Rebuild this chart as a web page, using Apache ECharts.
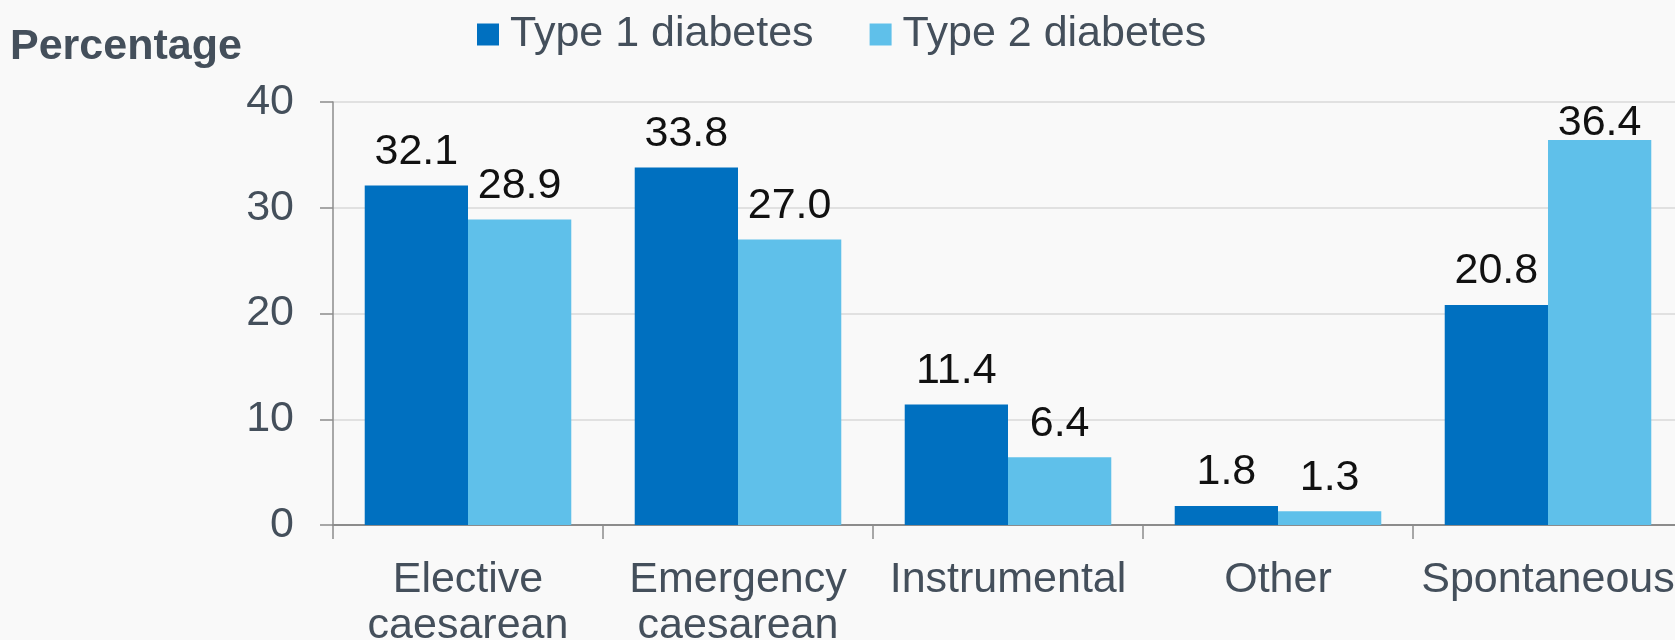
<!DOCTYPE html>
<html>
<head>
<meta charset="utf-8">
<title>Mode of delivery by diabetes type</title>
<script src="https://cdn.jsdelivr.net/npm/echarts@6/dist/echarts.min.js"></script>
<style>
  html, body { margin: 0; padding: 0; background: #f9f9f9; }
  #chart { width: 1675px; height: 640px; }
</style>
</head>
<body>
<div id="chart"></div>
<script>
// Chart data
const categories = ['Elective\ncaesarean', 'Emergency\ncaesarean', 'Instrumental', 'Other', 'Spontaneous'];
const seriesNames = ['Type 1 diabetes', 'Type 2 diabetes'];
const type1 = [32.1, 33.8, 11.4, 1.8, 20.8];
const type2 = [28.9, 27.0, 6.4, 1.3, 36.4];
const yMin = 0;
const yMax = 40;
const yStep = 10;

const font = '"Liberation Sans", Arial, sans-serif';
const slate = '#444f5b';
const colors = ['#0070c0', '#5fc0ea'];

const chart = echarts.init(document.getElementById('chart'), null, { renderer: 'canvas' });

// labels near the top of the plot sit closer to their bar (as in the original)
const makeData = (vals) => vals.map(v => ({
    value: v,
    label: { distance: v > 35 ? -5 : 12 }
}));

const barSeries = [type1, type2].map((vals, i) => ({
    name: seriesNames[i],
    type: 'bar',
    data: makeData(vals),
    barGap: '0%',
    barCategoryGap: '23.5%',
    itemStyle: { color: colors[i] },
    label: {
        show: true,
        position: 'top',
        color: '#111',
        fontFamily: font,
        fontSize: 43,
        formatter: (p) => p.value.toFixed(1)
    }
}));

const option = {
    animation: false,
    backgroundColor: '#f9f9f9',
    title: {
        text: 'Percentage',
        left: 5,
        top: 21,
        textStyle: { color: slate, fontFamily: font, fontSize: 43, fontWeight: 'bold' }
    },
    legend: {
        data: seriesNames,
        left: 472,
        top: 8,
        icon: 'rect',
        itemWidth: 22,
        itemHeight: 22,
        itemGap: 56,
        textStyle: { color: slate, fontFamily: font, fontSize: 43, padding: [0, 0, 0, 6] }
    },
    // the plot runs a little past the right edge, as in the original
    grid: { left: 333, top: 102, width: 1350, height: 423, outerBoundsMode: 'none', containLabel: false },
    xAxis: {
        type: 'category',
        data: categories,
        axisLine: { lineStyle: { color: '#8c8c8c', width: 2 } },
        axisTick: { show: true, length: 14, lineStyle: { color: '#8c8c8c', width: 1.5 } },
        axisLabel: {
            interval: 0,
            margin: 32,
            color: slate,
            fontFamily: font,
            fontSize: 43,
            lineHeight: 46
        }
    },
    yAxis: {
        type: 'value',
        min: yMin,
        max: yMax,
        interval: yStep,
        axisLine: { show: true, lineStyle: { color: '#8c8c8c', width: 1.5 } },
        axisTick: { show: true, length: 13, lineStyle: { color: '#8c8c8c', width: 1.5 } },
        splitLine: { lineStyle: { color: '#d9d9d9', width: 1.5 } },
        axisLabel: { margin: 39, color: slate, fontFamily: font, fontSize: 43 }
    },
    series: barSeries
};

chart.setOption(option);
</script>
</body>
</html>
